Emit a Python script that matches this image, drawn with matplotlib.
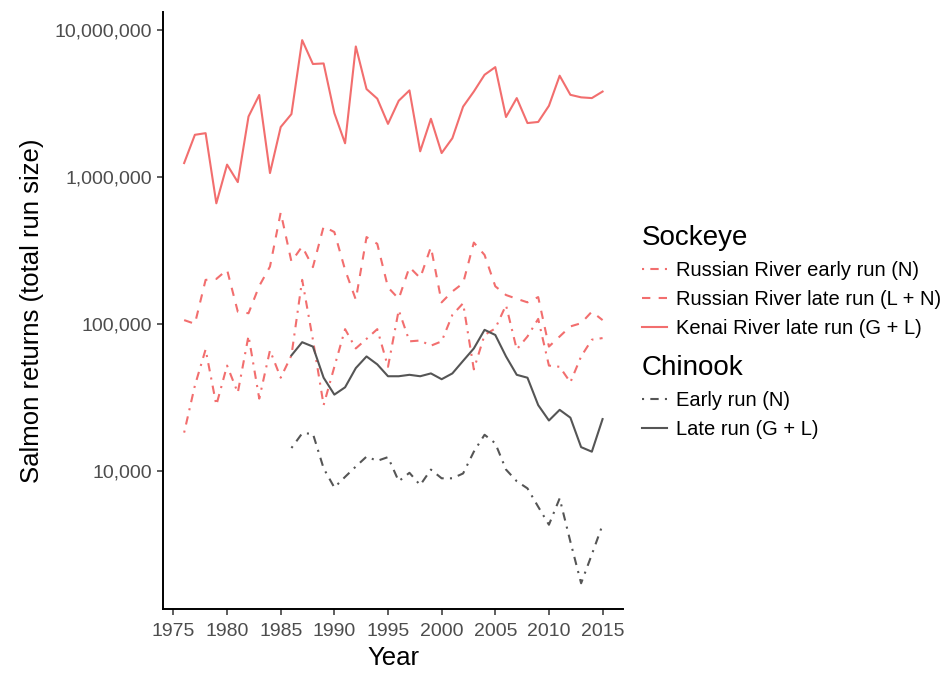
import matplotlib.pyplot as plt
import matplotlib.ticker as mticker
import numpy as np

plt.rcParams['font.family'] = ['Liberation Sans', 'DejaVu Sans']

years = list(range(1976, 2016))
chinook_years = list(range(1986, 2016))

# Sockeye
kenai_late = [1240000, 1930000, 1980000, 660000, 1210000, 920000, 2570000, 3600000, 1060000, 2180000,
              2670000, 8500000, 5850000, 5900000, 2710000, 1690000, 7700000, 3950000, 3400000, 2290000,
              3290000, 3870000, 1490000, 2480000, 1450000, 1830000, 3000000, 3800000, 4940000, 5570000,
              2550000, 3430000, 2320000, 2360000, 3040000, 4870000, 3610000, 3470000, 3430000, 3800000]
russian_late = [106000, 100000, 199000, 202000, 233000, 121000, 118000, 181000, 245000, 572000,
                265000, 336000, 243000, 459000, 421000, 233000, 146000, 389000, 350000, 177000,
                148000, 243000, 205000, 333000, 140000, 166000, 189000, 357000, 294000, 180000,
                157000, 148000, 140000, 152000, 70000, 82000, 96000, 101000, 121000, 106000]
russian_early = [18200, 38000, 67000, 28000, 52000, 34000, 83000, 31000, 66000, 43000,
                 61000, 199000, 78000, 28000, 51000, 92000, 68000, 79000, 92000, 51000,
                 124000, 76000, 77000, 71000, 76000, 115000, 138000, 49000, 84000, 93000,
                 134000, 67000, 82000, 108000, 52000, 51000, 40000, 60000, 78000, 80000]

# Chinook
chinook_late = [61000, 75000, 70000, 43000, 33000, 37000, 50000, 60000, 53000, 44000,
                44000, 45000, 44000, 46000, 42000, 46000, 56000, 68000, 91000, 84000,
                60000, 45000, 43000, 28000, 22000, 26000, 23000, 14500, 13500, 22500]
chinook_early = [14300, 18000, 17900, 10400, 7700, 9100, 10700, 12500, 11700, 12400,
                 8500, 9700, 8000, 10200, 8900, 8900, 9600, 13500, 17600, 15400,
                 10200, 8500, 7600, 5700, 4300, 6500, 3300, 1720, 2700, 4300]

red = '#F26E6E'
dark = '#555555'
lw = 1.5

fig = plt.figure(figsize=(9.49, 6.73), dpi=100)
ax = fig.add_axes([0.172, 0.095, 0.485, 0.887])

l1, = ax.plot(years, russian_early, color=red, lw=lw, dashes=(1, 3, 4, 3))
l2, = ax.plot(years, russian_late, color=red, lw=lw, dashes=(4, 4))
l3, = ax.plot(years, kenai_late, color=red, lw=lw)
l4, = ax.plot(chinook_years, chinook_early, color=dark, lw=lw, dashes=(1, 3, 4, 3))
l5, = ax.plot(chinook_years, chinook_late, color=dark, lw=lw)

ax.set_yscale('log')
ax.set_ylim(10 ** 3.06, 10 ** 7.12)
ax.set_xlim(1974.05, 2016.95)
ax.set_yticks([10000, 100000, 1000000, 10000000])
ax.yaxis.set_major_formatter(mticker.FuncFormatter(lambda v, p: f'{int(round(v)):,}'))
ax.yaxis.set_minor_locator(mticker.NullLocator())
ax.set_xticks(np.arange(1975, 2016, 5))

for s in ['top', 'right']:
    ax.spines[s].set_visible(False)
for s in ['left', 'bottom']:
    ax.spines[s].set_linewidth(1.4)
    ax.spines[s].set_color('black')
ax.tick_params(axis='both', labelsize=14, labelcolor='#4D4D4D', color='#333333',
               length=4, width=1.1)
ax.tick_params(axis='x', pad=6)
ax.tick_params(axis='y', pad=4)

ax.set_xlabel('Year', fontsize=18.5, labelpad=4)
ax.set_ylabel('Salmon returns (total run size)', fontsize=18.5, labelpad=8)

leg_kw = dict(loc='upper left', frameon=False, fontsize=14.5, title_fontsize=20,
              handlelength=1.25, handletextpad=0.45, labelspacing=0.5,
              borderpad=0, borderaxespad=0, alignment='left')
leg1 = fig.legend([l1, l2, l3], ['Russian River early run (N)', 'Russian River late run (L + N)',
                                 'Kenai River late run (G + L)'],
                  title='Sockeye', bbox_to_anchor=(0.676, 0.666), **leg_kw)
leg2 = fig.legend([l4, l5], ['Early run (N)', 'Late run (G + L)'],
                  title='Chinook', bbox_to_anchor=(0.676, 0.472), **leg_kw)

fig.savefig('out.png', dpi=100)
